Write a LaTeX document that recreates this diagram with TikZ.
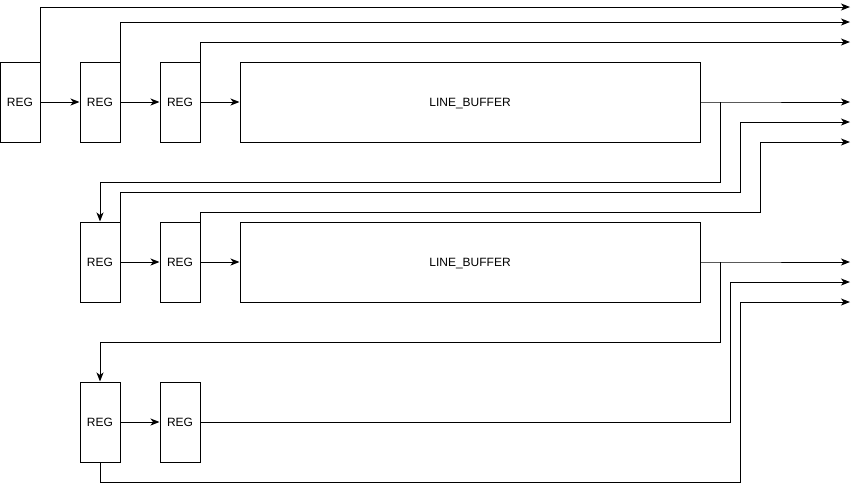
\documentclass[tikz,border=0pt]{standalone}
\usepackage{fontspec}
\setmainfont{Liberation Sans}
\usetikzlibrary{arrows.meta}
\begin{document}
\begin{tikzpicture}[x=1pt,y=-1pt,
  box/.style={draw,line width=1pt,minimum width=40pt,minimum height=80pt,inner sep=0pt,text depth=0pt,font=\fontsize{12}{14}\selectfont},
  lbuf/.style={box,minimum width=460pt},
  wire/.style={line width=1pt},
  arr/.style={wire,-{Stealth[length=9pt,width=7pt,inset=2.5pt]}}]
\useasboundingbox (0,0) rectangle (859,491);
% row 1
\node[box] (r1) at (20,102) {REG};
\node[box] (r2) at (100,102) {REG};
\node[box] (r3) at (180,102) {REG};
\node[lbuf] (lb1) at (470,102) {LINE\_BUFFER};
% row 2
\node[box] (r4) at (100,262) {REG};
\node[box] (r5) at (180,262) {REG};
\node[lbuf] (lb2) at (470,262) {LINE\_BUFFER};
% row 3
\node[box] (r6) at (100,422) {REG};
\node[box] (r7) at (180,422) {REG};
% outputs
\coordinate (o1) at (850,7);
\coordinate (o2) at (850,22);
\coordinate (o3) at (850,42);
\coordinate (o4) at (850,102);
\coordinate (o5) at (850,122);
\coordinate (o6) at (850,142);
\coordinate (o7) at (850,262);
\coordinate (o8) at (850,282);
\coordinate (o9) at (850,302);
\coordinate (j1) at (720,102);
\coordinate (j2) at (720,262);
\coordinate (k5) at (740,192);
\coordinate (k6) at (760,212);
\coordinate (k8) at (730,422);
\coordinate (k9) at (740,482);
% row 1 wires
\draw[arr] (r1.east) -- (r2.west);
\draw[arr] (r2.east) -- (r3.west);
\draw[arr] (r3.east) -- (lb1.west);
\draw[arr] (r1.north east) |- (o1);
\draw[arr] (r2.north east) |- (o2);
\draw[arr] (r3.north east) |- (o3);
\draw[arr] (lb1.east) -- (j1) -- (o4);
\draw[arr] (j1) -- (720,182) -| (r4.north);
% row 2 wires
\draw[arr] (r4.east) -- (r5.west);
\draw[arr] (r5.east) -- (lb2.west);
\draw[arr] (r4.north east) |- (k5) |- (o5);
\draw[arr] (r5.north east) |- (k6) |- (o6);
\draw[arr] (lb2.east) -- (j2) -- (o7);
\draw[arr] (j2) -- (720,342) -| (r6.north);
% row 3 wires
\draw[arr] (r6.east) -- (r7.west);
\draw[arr] (r7.east) -- (k8) |- (o8);
\draw[arr] (r6.south) |- (k9) |- (o9);
\end{tikzpicture}
\end{document}
